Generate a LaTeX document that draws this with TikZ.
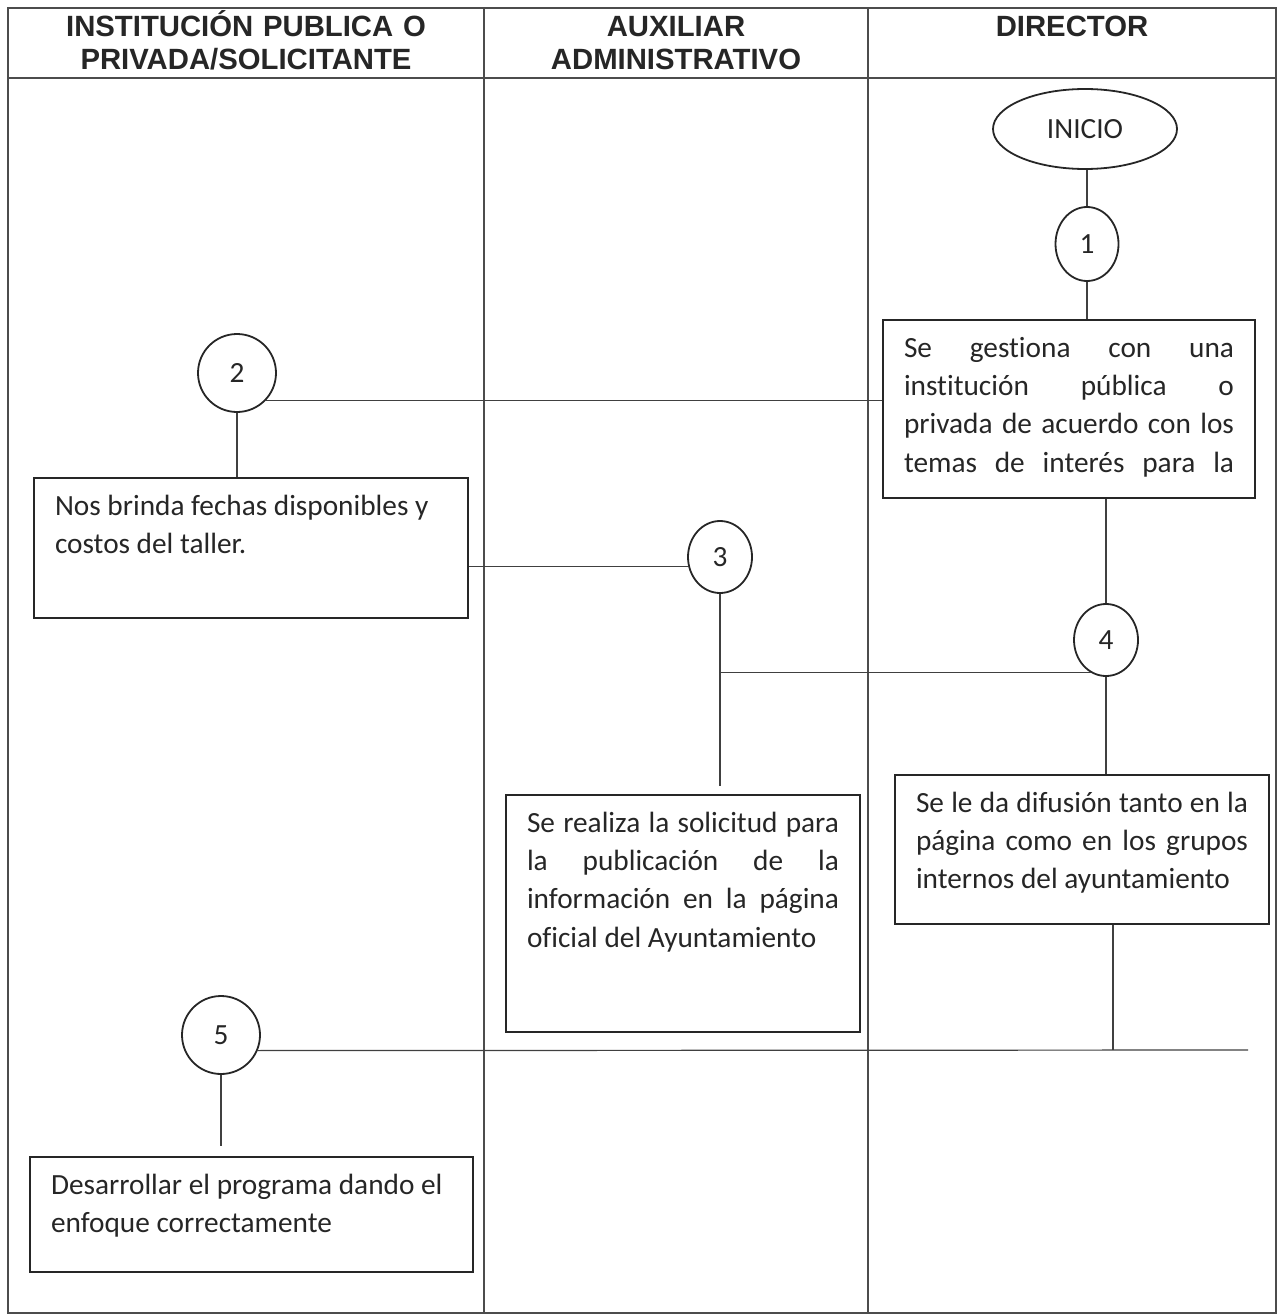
\documentclass[tikz,border=0pt]{standalone}
\usepackage{fontspec}
\setmainfont{Carlito}[Ligatures=NoCommon]
\newfontfamily\cabecera{Liberation Sans}
\usetikzlibrary{shapes.geometric}
\newcommand{\renglon}[1]{\makebox[\linewidth][s]{#1}}
\newcommand{\textocaja}[3]{\parbox[c][#1][t]{#2}{\rule{0pt}{37pt}#3}}

\begin{document}
\begin{tikzpicture}[x=1pt, y=-1pt,
  font=\fontsize{29.3}{38.4}\selectfont,
  marco/.style={draw=black!70, line width=1.3pt},
  encabezado/.style={text width=380pt, align=center, anchor=base, text=black!85,
    font=\fontsize{29.3}{33}\cabecera\bfseries},
  caja/.style={draw=black!85, line width=2.2pt, inner xsep=21pt, inner ysep=0pt, text=black!85},
  paso/.style={ellipse, draw=black!85, line width=1.8pt, inner sep=0pt, text=black!85},
  linea/.style={draw=black!75, line width=1.2pt}]
\useasboundingbox (0,0) rectangle (1278,1316);

\draw[marco] (8,8) rectangle (1276,1313);
\draw[marco] (8,78) -- (1276,78);
\draw[marco] (484,8) -- (484,1313);
\draw[marco] (868,8) -- (868,1313);

\node[encabezado] (H1) at (246,37) {INSTITUCIÓN PUBLICA O\\PRIVADA/SOLICITANTE};
\node[encabezado] (H2) at (676,37) {AUXILIAR\\ADMINISTRATIVO};
\node[encabezado] (H3) at (1072,37) {DIRECTOR};

\node[paso, minimum width=184pt, minimum height=80pt] (I) at (1085,129) {INICIO};
\node[paso, minimum width=63pt, minimum height=74pt] (C1) at (1087,244) {1};
\node[paso, minimum width=78pt, minimum height=78pt] (C2) at (237,373) {2};
\node[paso, minimum width=64pt, minimum height=72pt] (C3) at (720,557) {3};
\node[paso, minimum width=64pt, minimum height=72pt] (C4) at (1106,640) {4};
\node[paso, minimum width=78pt, minimum height=78pt] (C5) at (221,1035) {5};

\node[caja] (B1) at (1069,409) {\textocaja{178pt}{330pt}{\renglon{Se gestiona con una}\\\renglon{institución pública o}\\\renglon{privada de acuerdo con los}\\\renglon{temas de interés para la}}};
\node[caja] (B2) at (251,548) {\textocaja{140pt}{392pt}{\mbox{Nos brinda fechas disponibles y}\\costos del taller.}};
\node[caja] (B3) at (683,913.5) {\textocaja{237pt}{312pt}{\renglon{Se realiza la solicitud para}\\\renglon{la publicación de la}\\\renglon{información en la página}\\oficial del Ayuntamiento}};
\node[caja] (B4) at (1082,849.5) {\textocaja{149pt}{332pt}{\renglon{Se le da difusión tanto en la}\\\renglon{página como en los grupos}\\internos del ayuntamiento}};
\node[caja] (B5) at (251.5,1214.5) {\textocaja{115pt}{401pt}{\mbox{Desarrollar el programa dando el}\\enfoque correctamente}};

\coordinate (F) at (1248,1050);
\coordinate (J) at (1113,1050);

\draw[linea] (C1.north) -- (C1.north |- I.south);
\draw[linea] (C1.south) -- (C1.south |- B1.north);
\draw[linea] (C2.-44) -- (C2.-44 -| B1.west);
\draw[linea] (C2.south) -- (C2.south |- B2.north);
\draw[linea] (C3.197) -- (C3.197 -| B2.east);
\draw[linea, shorten >=8pt] (C3.south) -- (C3.south |- B3.north);
\draw[linea] (C4.north) -- (C4.north |- B1.south);
\draw[linea] (C4.245) -- (C4.245 -| C3.south);
\draw[linea] (C4.south) -- (C4.south |- B4.north);
\draw[linea] (J |- B4.south) -- (J);
\draw[linea] (C5.-23) -- (F);
\draw[linea, shorten >=10pt] (C5.south) -- (C5.south |- B5.north);
\end{tikzpicture}
\end{document}
